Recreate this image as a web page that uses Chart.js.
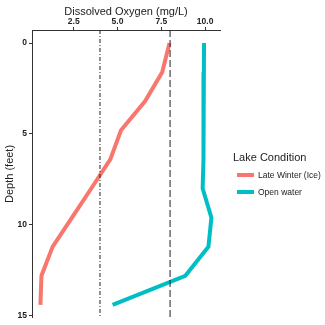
<!DOCTYPE html>
<html>
<head>
<meta charset="utf-8">
<script src="https://cdn.jsdelivr.net/npm/chart.js@4"></script>
<style>
  html, body { margin: 0; padding: 0; background: #fff; }
  #wrap { position: relative; width: 325px; height: 325px; font-family: "Liberation Sans", Arial, sans-serif; }
  #legend { position: absolute; left: 233px; top: 151px; color: #222; }
  #legend .title { font-size: 11px; margin-bottom: 3px; }
  #legend .item { display: flex; align-items: center; height: 17px; font-size: 8.5px; }
  #legend .swatch { width: 17px; height: 4px; margin: 0 4px 0 4px; }
</style>
</head>
<body>
<div id="wrap">
  <canvas id="chart" width="325" height="325"></canvas>
  <div id="legend"></div>
</div>
<script>
const DEPTHS = [0, 1.6, 3.2, 4.8, 6.4, 8.0, 9.6, 11.2, 12.8, 14.4]
const WINTER_DO = [7.97, 7.55, 6.57, 5.2, 4.59, 3.5, 2.4, 1.3, 0.66, 0.6]
const OPEN_DO = [9.94, 9.93, 9.92, 9.91, 9.89, 9.86, 10.36, 10.19, 8.87, 4.72]

const SERIES = [
  { label: 'Late Winter (Ice)', values: WINTER_DO, color: '#F8766D' },
  { label: 'Open water', values: OPEN_DO, color: '#00BFC4' },
]

const X_TICKS = [2.5, 5.0, 7.5, 10.0]
const Y_TICKS = [0, 5, 10, 15]
const X_RANGE = [0.12, 10.85]
const Y_RANGE = [-0.72, 15.12]

// reference lines: dissolved oxygen thresholds
const THRESHOLDS = [
  { value: 8, dash: [7, 3] },
  { value: 4, dash: [4, 2, 1, 2] },
]

const legendEl = document.getElementById('legend')
legendEl.innerHTML = '<div class="title">Lake Condition</div>' +
  SERIES.map((s) => `<div class="item"><span class="swatch" style="background:${s.color}"></span>${s.label}</div>`).join('')

const datasets = [
  ...THRESHOLDS.map((t) => ({
    data: Y_RANGE.map((y) => ({ x: t.value, y })),
    borderColor: '#222',
    borderWidth: 1,
    borderDash: t.dash,
    pointRadius: 0,
    showLine: true,
  })),
  ...SERIES.map((s) => ({
    label: s.label,
    data: DEPTHS.map((d, i) => ({ x: s.values[i], y: d })),
    borderColor: s.color,
    backgroundColor: s.color,
    borderWidth: 4,
    pointRadius: 0,
    showLine: true,
    tension: 0,
  })),
]

const tickFont = { family: '"Liberation Sans", Arial, sans-serif', size: 8.5, weight: 'bold' }
const titleFont = { family: '"Liberation Sans", Arial, sans-serif', size: 11 }

new Chart(document.getElementById('chart'), {
  type: 'scatter',
  data: { datasets },
  options: {
    responsive: false,
    animation: false,
    layout: { autoPadding: false, padding: { left: 3, right: 105, top: 0, bottom: 3 } },
    plugins: { legend: { display: false }, tooltip: { enabled: false } },
    scales: {
      x: {
        type: 'linear',
        position: 'top',
        min: X_RANGE[0],
        max: X_RANGE[1],
        afterBuildTicks: (scale) => { scale.ticks = X_TICKS.map((v) => ({ value: v })) },
        afterFit: (scale) => { scale.height = 30 },
        ticks: { color: '#222', font: tickFont, padding: 0, callback: (v) => v.toFixed(1) },
        grid: { drawOnChartArea: false, tickLength: 3, tickColor: '#333' },
        border: { color: '#333', width: 1 },
        title: { display: true, text: 'Dissolved Oxygen (mg/L)', color: '#222', font: titleFont, padding: { top: 5, bottom: 0 } },
      },
      y: {
        type: 'linear',
        reverse: true,
        min: Y_RANGE[0],
        max: Y_RANGE[1],
        afterBuildTicks: (scale) => { scale.ticks = Y_TICKS.map((v) => ({ value: v })) },
        afterFit: (scale) => { scale.width = 29 },
        ticks: { color: '#222', font: tickFont, padding: 2 },
        grid: { drawOnChartArea: false, tickLength: 3, tickColor: '#333' },
        border: { color: '#333', width: 1 },
        title: { display: true, text: 'Depth (feet)', color: '#222', font: titleFont, padding: { top: 0, bottom: 0 } },
      },
    },
  },
})
</script>
</body>
</html>
